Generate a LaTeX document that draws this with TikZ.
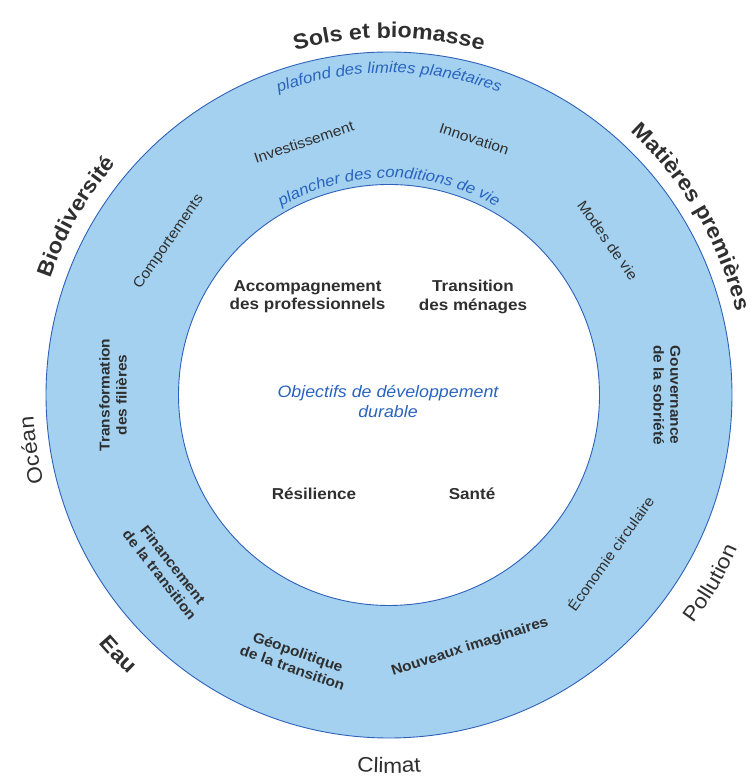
\documentclass[tikz,border=0pt]{standalone}
\usepackage{fontspec}
\setmainfont{Liberation Sans}[FakeStretch=1.08]
\usetikzlibrary{calc,decorations.text}
\definecolor{ringfill}{HTML}{A4D1F0}
\definecolor{ringline}{HTML}{2E62B9}
\definecolor{bluetext}{HTML}{2863BE}
\definecolor{darktext}{HTML}{2F2F2F}
\newcommand\fOutB{\bfseries\fontsize{21.5}{21.5}\selectfont}
\newcommand\fOutR{\fontsize{21}{21}\selectfont}
\newcommand\fBlue{\itshape\fontsize{15.5}{15.5}\selectfont}
% clockwise arc text (letters upright outward): center angle, radius, format, colour, text
\newcommand\cwarc[5]{%
  \path[decorate,decoration={text along path,text align=center,text color=#4,
        text={|#3|#5}}]
    ($(C)+(#1+70:#2)$) arc[start angle=#1+70,end angle=#1-70,radius=#2];}
% counter-clockwise arc text (letters upright inward)
\newcommand\ccwarc[5]{%
  \path[decorate,decoration={text along path,text align=center,text color=#4,
        text={|#3|#5}}]
    ($(C)+(#1-50:#2)$) arc[start angle=#1-50,end angle=#1+50,radius=#2];}
\begin{document}
\begin{tikzpicture}[x=1pt,y=1pt,
  ringlab/.style={font=\fontsize{14.5}{17}\selectfont,text=darktext,inner sep=0pt},
  ringbold/.style={font=\bfseries\fontsize{14.3}{16.8}\selectfont,text=darktext,align=center,inner sep=0pt},
  inlab/.style={font=\bfseries\fontsize{15.8}{18.3}\selectfont,text=darktext,align=center,inner sep=0pt},
  goal/.style={font=\itshape\fontsize{16.5}{20}\selectfont,text=bluetext,align=center,inner sep=0pt},
  ring/.style={fill=ringfill,draw=ringline,line width=0.9pt,even odd rule}]
\useasboundingbox (0,0) rectangle (755,778);
\coordinate (C) at (389,383);
% ring
\path[ring] (C) circle[radius=343] (C) circle[radius=210.5];
% outer labels
\cwarc{90}{357}{\fOutB}{darktext}{Sols et biomasse}
\cwarc{30.5}{357}{\fOutB}{darktext}{Matières premières}
\cwarc{150.3}{358}{\fOutB}{darktext}{Biodiversité}
\cwarc{188.8}{356}{\fOutR}{darktext}{Océan}
\ccwarc{270}{378}{\fOutR}{darktext}{Climat}
\ccwarc{223.8}{382}{\fOutB}{darktext}{Eau}
\ccwarc{-30.3}{381}{\fOutR}{darktext}{Pollution}
% blue boundary labels
\cwarc{90}{322}{\fBlue}{bluetext}{plafond des limites planétaires}
\cwarc{90}{217}{\fBlue}{bluetext}{plancher des conditions de vie}
% ring labels
\node[ringlab,rotate=18.6] (invest) at ($(C)+(108.6:267)$) {Investissement};
\node[ringlab,rotate=-18.4] (innov) at ($(C)+(71.6:270)$) {Innovation};
\node[ringlab,rotate=-54.7] (modes) at ($(C)+(35.3:268)$) {Modes de vie};
\node[ringlab,rotate=55.2] (comport) at ($(C)+(145.2:268)$) {Comportements};
\node[ringbold,rotate=90] (transf) at ($(C)+(180:276)$) {Transformation\\des filières};
\node[ringbold,rotate=-90] (gouv) at ($(C)+(0:278)$) {Gouvernance\\de la sobriété};
\node[ringbold,rotate=-51.9] (financ) at ($(C)+(218.1:283)$) {Financement\\de la transition};
\node[ringbold,rotate=-19.5] (geopol) at ($(C)+(250.5:281)$) {Géopolitique\\de la transition};
\node[ringbold,rotate=17.8] (imag) at ($(C)+(287.8:265)$) {Nouveaux imaginaires};
\node[ringlab,rotate=54.4] (eco) at ($(C)+(-35.6:272)$) {Économie circulaire};
% inner labels
\node[inlab] (accomp) at (307.5,481) {Accompagnement\\des professionnels};
\node[inlab] (menages) at (473,481) {Transition\\des ménages};
\node[goal] (odd) at (388,376) {Objectifs de développement\\durable};
\node[inlab] (resil) at (314,284) {Résilience};
\node[inlab] (sante) at (472,284) {Santé};
\end{tikzpicture}
\end{document}
